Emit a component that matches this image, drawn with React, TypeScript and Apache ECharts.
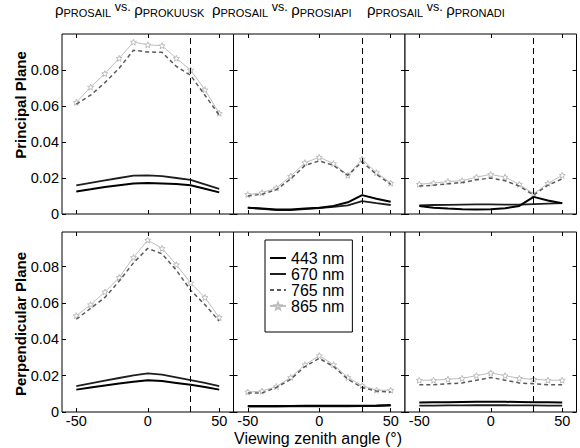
import React, { useEffect, useRef } from "react";
import * as echarts from "echarts";

// Viewing zenith angles (degrees)
const angles = [-50, -40, -30, -20, -10, 0, 10, 20, 30, 40, 50];
const bandNames = ["443 nm", "670 nm", "765 nm", "865 nm"];
const modelNames = ["PROKUUSK", "PROSIAPI", "PRONADI"];
const planeNames = ["Principal Plane", "Perpendicular Plane"];
const xTickValues = [-50, 0, 50];
const yTickValues = [0, 0.02, 0.04, 0.06, 0.08];
const sunZenith = 30;
const xLabel = "Viewing zenith angle (°)";

// Principal plane — PROSAIL vs PROKUUSK
const ppKuusk443 = [0.0125, 0.0137, 0.015, 0.016, 0.017, 0.0172, 0.017, 0.0167, 0.016, 0.014, 0.012];
const ppKuusk670 = [0.0159, 0.0173, 0.0187, 0.02, 0.0213, 0.0215, 0.021, 0.02, 0.019, 0.0165, 0.014];
const ppKuusk765 = [0.061, 0.066, 0.073, 0.081, 0.091, 0.09, 0.0898, 0.082, 0.077, 0.066, 0.055];
const ppKuusk865 = [0.062, 0.0705, 0.078, 0.0865, 0.0955, 0.094, 0.0935, 0.0865, 0.08, 0.069, 0.056];
// Principal plane — PROSAIL vs PROSIAPI
const ppSiapi443 = [0.0035, 0.003, 0.0025, 0.0025, 0.003, 0.0035, 0.0045, 0.0065, 0.0105, 0.0085, 0.0068];
const ppSiapi670 = [0.0035, 0.0028, 0.0022, 0.0022, 0.0027, 0.0033, 0.004, 0.0048, 0.0072, 0.006, 0.005];
const ppSiapi765 = [0.01, 0.011, 0.0135, 0.0195, 0.027, 0.0295, 0.027, 0.0215, 0.029, 0.022, 0.0165];
const ppSiapi865 = [0.0108, 0.0118, 0.0145, 0.021, 0.0285, 0.0315, 0.028, 0.0215, 0.0305, 0.023, 0.0172];
// Principal plane — PROSAIL vs PRONADI
const ppNadi443 = [0.0045, 0.0035, 0.003, 0.0027, 0.0025, 0.0027, 0.0032, 0.0045, 0.0095, 0.0075, 0.006];
const ppNadi670 = [0.0048, 0.005, 0.0051, 0.0052, 0.0053, 0.0053, 0.0052, 0.0052, 0.0055, 0.0058, 0.006];
const ppNadi765 = [0.0155, 0.016, 0.0168, 0.0175, 0.019, 0.02, 0.0185, 0.0155, 0.0105, 0.016, 0.0195];
const ppNadi865 = [0.0165, 0.0172, 0.018, 0.0185, 0.0205, 0.022, 0.0205, 0.0165, 0.0112, 0.017, 0.0215];
// Perpendicular plane — PROSAIL vs PROKUUSK
const cpKuusk443 = [0.0123, 0.0135, 0.0146, 0.0157, 0.0167, 0.0175, 0.017, 0.016, 0.015, 0.0137, 0.0123];
const cpKuusk670 = [0.0142, 0.0157, 0.0172, 0.0187, 0.0202, 0.0213, 0.0205, 0.019, 0.0175, 0.016, 0.0142];
const cpKuusk765 = [0.051, 0.057, 0.063, 0.072, 0.082, 0.09, 0.087, 0.078, 0.067, 0.059, 0.05];
const cpKuusk865 = [0.053, 0.059, 0.066, 0.074, 0.085, 0.0945, 0.09, 0.081, 0.071, 0.063, 0.052];
// Perpendicular plane — PROSAIL vs PROSIAPI
const cpSiapi443 = [0.0033, 0.0033, 0.0033, 0.0033, 0.0034, 0.0034, 0.0034, 0.0034, 0.0035, 0.0036, 0.0038];
const cpSiapi670 = [0.003, 0.003, 0.003, 0.0031, 0.0031, 0.0031, 0.0031, 0.0031, 0.0032, 0.0033, 0.0035];
const cpSiapi765 = [0.0105, 0.0105, 0.0135, 0.018, 0.025, 0.0295, 0.025, 0.018, 0.0135, 0.0115, 0.011];
const cpSiapi865 = [0.011, 0.0115, 0.014, 0.019, 0.026, 0.031, 0.026, 0.019, 0.0145, 0.012, 0.012];
// Perpendicular plane — PROSAIL vs PRONADI
const cpNadi443 = [0.0052, 0.0053, 0.0054, 0.0055, 0.0056, 0.0057, 0.0056, 0.0055, 0.0054, 0.0053, 0.0052];
const cpNadi670 = [0.0035, 0.0035, 0.0036, 0.0036, 0.0037, 0.0037, 0.0037, 0.0036, 0.0036, 0.0035, 0.0035];
const cpNadi765 = [0.015, 0.015, 0.0155, 0.016, 0.0175, 0.019, 0.0175, 0.016, 0.0155, 0.015, 0.015];
const cpNadi865 = [0.0175, 0.0175, 0.018, 0.0185, 0.02, 0.0215, 0.02, 0.0185, 0.018, 0.0175, 0.0175];

const panels = [
  [ppKuusk443, ppKuusk670, ppKuusk765, ppKuusk865],
  [ppSiapi443, ppSiapi670, ppSiapi765, ppSiapi865],
  [ppNadi443, ppNadi670, ppNadi765, ppNadi865],
  [cpKuusk443, cpKuusk670, cpKuusk765, cpKuusk865],
  [cpSiapi443, cpSiapi670, cpSiapi765, cpSiapi865],
  [cpNadi443, cpNadi670, cpNadi765, cpNadi865],
];

const FONT = "Liberation Sans, Arial, Helvetica, sans-serif";
const STAR =
  "path://M12,1 L14.9,8.6 L23,9.2 L16.8,14.3 L18.8,22.5 L12,18 L5.2,22.5 L7.2,14.3 L1,9.2 L9.1,8.6 Z";

export default function App() {
  const ref = useRef<HTMLDivElement>(null);

  useEffect(() => {
    if (!ref.current) return;
    const chart = echarts.init(ref.current, undefined, { renderer: "svg" });

    const colLeft = [62, 233.5, 405];
    const colWidth = 171.5;
    const rowTop = [34, 232];
    const rowHeight = [180, 180];
    const rowMax = [0.1, 0.099];

    const grids: any[] = [];
    const xAxes: any[] = [];
    const yAxes: any[] = [];
    const series: any[] = [];
    const tickStyle = { lineStyle: { color: "#000", width: 1 } };

    panels.forEach((bands, i) => {
      const row = Math.floor(i / 3);
      const col = i % 3;
      grids.push({
        left: colLeft[col],
        top: rowTop[row],
        width: colWidth,
        height: rowHeight[row],
        show: true,
        borderColor: "#000",
        borderWidth: 1,
        backgroundColor: "#fff",
      });
      ["bottom", "top"].forEach((pos) => {
        xAxes.push({
          type: "value",
          gridIndex: i,
          min: -60,
          max: 60,
          position: pos,
          axisLine: { show: false, onZero: false },
          splitLine: { show: false },
          axisTick: { show: true, inside: true, length: 4, customValues: xTickValues, ...tickStyle },
          axisLabel: {
            show: pos === "bottom" && row === 1,
            customValues: xTickValues,
            fontSize: 14.5,
            color: "#000",
            margin: 1,
            fontFamily: FONT,
          },
        });
      });
      ["left", "right"].forEach((pos) => {
        yAxes.push({
          type: "value",
          gridIndex: i,
          min: 0,
          max: rowMax[row],
          position: pos,
          axisLine: { show: false, onZero: false },
          splitLine: { show: false },
          axisTick: { show: true, inside: true, length: 4, customValues: yTickValues, ...tickStyle },
          axisLabel: {
            show: pos === "left" && col === 0,
            customValues: yTickValues,
            fontSize: 14.5,
            color: "#000",
            margin: 3,
            fontFamily: FONT,
            formatter: (v: number) => (v === 0 ? "0" : v.toFixed(2)),
          },
        });
      });

      const styles = [
        { color: "#000", width: 2, type: "solid" },
        { color: "#1e1e1e", width: 1.8, type: "solid" },
        { color: "#5a5a5a", width: 1.5, type: [4, 3] },
        { color: "#bdbdbd", width: 1, type: "solid" },
      ];
      bands.forEach((vals, b) => {
        const s: any = {
          type: "line",
          name: bandNames[b],
          xAxisIndex: 2 * i,
          yAxisIndex: 2 * i,
          data: angles.map((a, k) => [a, vals[k]]),
          lineStyle: { color: styles[b].color, width: styles[b].width, type: styles[b].type },
          itemStyle: { color: styles[b].color },
          showSymbol: b === 3,
          symbol: b === 3 ? STAR : "none",
          symbolSize: 6,
          silent: true,
          z: 5 - b,
        };
        if (b === 3) {
          s.itemStyle = { color: "#fff", borderColor: "#bdbdbd", borderWidth: 1 };
        }
        if (b === 0) {
          s.markLine = {
            silent: true,
            symbol: ["none", "none"],
            label: { show: false },
            lineStyle: { color: "#000", type: [6, 4], width: 1 },
            data: [{ xAxis: sunZenith }],
          };
        }
        series.push(s);
      });
    });

    const titleRich = {
      r: { fontSize: 15, lineHeight: 18, verticalAlign: "middle", fontFamily: FONT, fill: "#000" },
      s: { fontSize: 11, lineHeight: 10, verticalAlign: "bottom", fontFamily: FONT, fill: "#000" },
      v: { fontSize: 12.5, lineHeight: 10, verticalAlign: "top", fontFamily: FONT, fill: "#000" },
    };
    const titleX = [55, 212, 367];

    const graphics: any[] = [];
    modelNames.forEach((m, c) => {
      graphics.push({
        type: "text",
        x: titleX[c],
        y: 0,
        silent: true,
        style: {
          text: `{r|ρ}{s|PROSAIL}{v| vs. }{r|ρ}{s|${m}}`,
          rich: titleRich,
          align: "left",
          verticalAlign: "top",
          fill: "#000",
          font: `15px ${FONT}`,
        },
      });
    });
    const nameY = [105, 324];
    planeNames.forEach((p, r) => {
      graphics.push({
        type: "text",
        x: 20,
        y: nameY[r],
        rotation: Math.PI / 2,
        silent: true,
        style: {
          text: p,
          align: "center",
          verticalAlign: "middle",
          fill: "#000",
          font: `bold 15px ${FONT}`,
        },
      });
    });
    graphics.push({
      type: "text",
      x: 318,
      y: 438,
      silent: true,
      style: {
        text: xLabel,
        align: "center",
        verticalAlign: "middle",
        fill: "#000",
        font: `16px ${FONT}`,
      },
    });

    const hidden = { opacity: 0, color: "transparent", borderWidth: 0 };
    chart.setOption({
      animation: false,
      backgroundColor: "#fff",
      textStyle: { fontFamily: FONT },
      grid: grids,
      xAxis: xAxes,
      yAxis: yAxes,
      series,
      legend: {
        data: [
          { name: bandNames[0], itemStyle: hidden },
          { name: bandNames[1], itemStyle: hidden },
          { name: bandNames[2], itemStyle: hidden },
          { name: bandNames[3] },
        ],
        orient: "vertical",
        left: 265,
        top: 240,
        backgroundColor: "#fff",
        borderColor: "#000",
        borderWidth: 1,
        borderRadius: 0,
        padding: [10, 8, 18, 4],
        itemGap: 0,
        itemWidth: 16,
        itemHeight: 8,
        selectedMode: false,
        textStyle: { fontSize: 16, lineHeight: 16, color: "#000", fontFamily: FONT },
        z: 10,
      },
      graphic: graphics,
    });

    return () => chart.dispose();
  }, []);

  return (
    <div
      ref={ref}
      style={{ position: "fixed", left: 0, top: 0, width: 580, height: 448, background: "#fff" }}
    />
  );
}
